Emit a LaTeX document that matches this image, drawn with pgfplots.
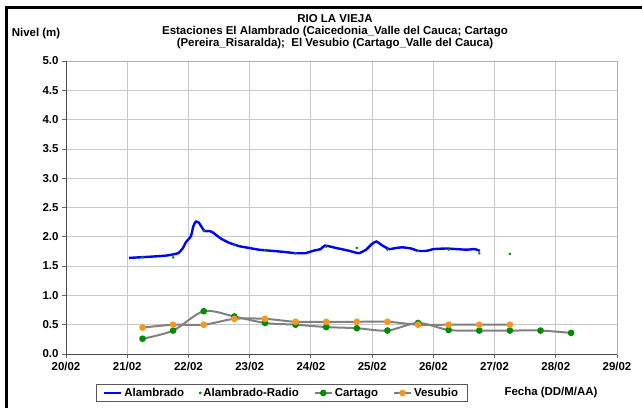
\documentclass[border=0pt]{standalone}
\usepackage{pgfplots}
\pgfplotsset{compat=1.18}
\usepackage{fontspec}
\setmainfont{Liberation Sans}

\definecolor{alamblue}{RGB}{0,0,255}
\definecolor{radiogreen}{RGB}{0,140,0}
\definecolor{linegray}{RGB}{128,128,128}
\definecolor{vesorange}{RGB}{250,150,30}
\definecolor{gridgray}{RGB}{200,200,200}

\begin{document}
\begin{tikzpicture}[x=1bp,y=1bp]
\useasboundingbox (-66,-54) rectangle (576,354);
\clip (-66,-54) rectangle (576,354);
\begin{axis}[
    scale only axis,
    width=551bp, height=293bp,
    xmin=20, xmax=29,
    ymin=0, ymax=5,
    xtick={20,21,22,23,24,25,26,27,28,29},
    xticklabels={20/02,21/02,22/02,23/02,24/02,25/02,26/02,27/02,28/02,29/02},
    ytick={0,0.5,1,1.5,2,2.5,3,3.5,4,4.5,5},
    yticklabel style={/pgf/number format/.cd, fixed, fixed zerofill, precision=1, assume math mode=true},
    ticklabel style={font=\bfseries\fontsize{11.5}{12}\selectfont},
    xticklabel style={yshift=-1bp},
    tick align=outside,
    tick pos=left,
    major tick length=4bp,
    tick style={draw=gray!80!black, line width=0.8pt},
    grid=major,
    major grid style={draw=gridgray, line width=0.8pt},
    axis line style={draw=gray!60, line width=0.8pt},
    legend columns=4,
    legend style={at={(0.391,-0.133)}, anchor=center, draw=gray!70!black, line width=0.6pt,
        font=\bfseries\fontsize{11.5}{12}\selectfont, inner xsep=7bp, inner ysep=1.5pt,
        /tikz/every even column/.append style={column sep=13bp}},
    legend cell align=left,
]

% Alambrado (continuous record)
\addplot[alamblue, line width=2.4pt, smooth, tension=0.3] coordinates {
(21.03,1.64)(21.37,1.66)(21.64,1.68)(21.83,1.72)(21.91,1.81)(21.96,1.91)
(22.04,2.01)(22.08,2.18)(22.12,2.26)(22.17,2.24)(22.26,2.10)(22.34,2.10)
(22.39,2.08)(22.53,1.97)(22.66,1.90)(22.83,1.84)(22.99,1.81)(23.15,1.78)
(23.37,1.76)(23.58,1.74)(23.75,1.72)(23.91,1.72)(24.0,1.75)(24.07,1.77)
(24.16,1.79)(24.23,1.85)(24.41,1.81)(24.63,1.76)(24.78,1.72)(24.90,1.78)
(25.0,1.88)(25.07,1.92)(25.17,1.85)(25.28,1.79)(25.39,1.81)(25.50,1.82)
(25.64,1.80)(25.75,1.76)(25.89,1.76)(26.0,1.79)(26.21,1.80)(26.38,1.79)
(26.54,1.78)(26.68,1.79)(26.76,1.76)
};
\addlegendentry{Alambrado}

% Alambrado-Radio
\addplot[only marks, mark=*, mark size=1.1pt, radiogreen] coordinates {
(21.25,1.65)(21.75,1.65)(22.25,2.10)(22.75,1.86)(23.25,1.77)(23.75,1.72)
(24.25,1.83)(24.75,1.81)(25.25,1.78)(25.75,1.76)(26.25,1.78)(26.75,1.72)
(27.25,1.71)
};
\addlegendentry{Alambrado-Radio}

% Cartago
\addplot[linegray, line width=2pt, smooth,
    mark=*, mark size=2.3pt, mark options={fill=radiogreen, draw=radiogreen}] coordinates {
(21.25,0.26)(21.75,0.40)(22.25,0.73)(22.75,0.64)(23.25,0.53)(23.75,0.50)
(24.25,0.46)(24.75,0.44)(25.25,0.40)(25.75,0.53)(26.25,0.41)(26.75,0.40)
(27.25,0.40)(27.75,0.40)(28.25,0.36)
};
\addlegendentry{Cartago}

% Vesubio
\addplot[linegray, line width=2pt, smooth,
    mark=*, mark size=2.3pt, mark options={fill=vesorange, draw=vesorange}] coordinates {
(21.25,0.45)(21.75,0.50)(22.25,0.50)(22.75,0.60)(23.25,0.60)(23.75,0.55)
(24.25,0.55)(24.75,0.55)(25.25,0.55)(25.75,0.50)(26.25,0.50)(26.75,0.50)
(27.25,0.50)
};
\addlegendentry{Vesubio}

\end{axis}
% darker left and bottom axis lines
\draw[gray!60!black, line width=1pt] (0,293) -- (0,0) -- (551,0);

% outer chart frame (only left and top edges fall inside the picture)
\draw[black, line width=2.5pt] (-59.5,-54) -- (-59.5,346.7) -- (576,346.7);

\node[font=\bfseries\fontsize{11.5}{12}\selectfont] at (-30,320) {Nivel (m)};
\node[font=\bfseries\fontsize{11.5}{12}\selectfont, align=center] at (269,322)
    {RIO LA VIEJA\\Estaciones El Alambrado (Caicedonia\_Valle del Cauca; Cartago\\(Pereira\_Risaralda);\ \ El Vesubio (Cartago\_Valle del Cauca)};
\node[font=\bfseries\fontsize{11.5}{12}\selectfont] at (485,-39) {Fecha (DD/M/AA)};
\end{tikzpicture}
\end{document}
